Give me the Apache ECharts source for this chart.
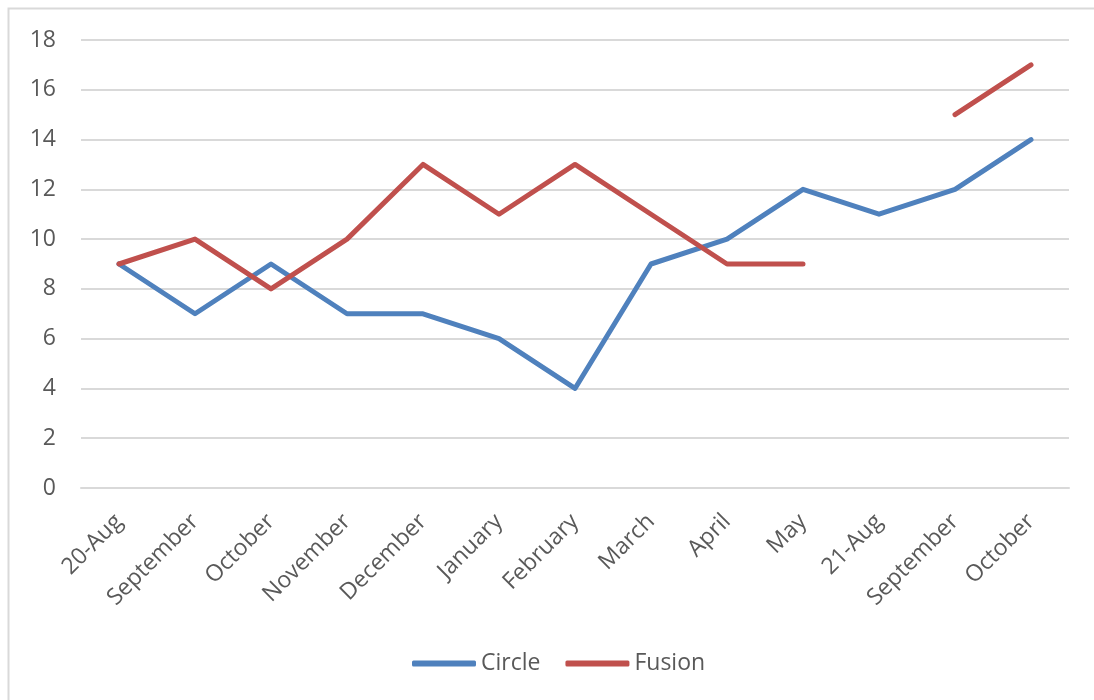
<!DOCTYPE html>
<html><head><meta charset="utf-8">
<script src="https://cdn.jsdelivr.net/npm/echarts@6/dist/echarts.min.js"></script>
<style>html,body{margin:0;padding:0;background:#fff}#c{width:1094px;height:700px}</style>
</head><body><div id="c"></div>
<script>
const categories = ['20-Aug','September','October','November','December','January','February','March','April','May','21-Aug','September','October'];
const circle = [9,7,9,7,7,6,4,9,10,12,11,12,14];
const fusion = [9,10,8,10,13,11,13,11,9,9,null,15,17];
const yTicks = {min:0,max:18,interval:2};

const chart = echarts.init(document.getElementById('c'));
const font = '"Open Sans", "Liberation Sans", sans-serif';
chart.setOption({
  animation:false,
  graphic:[{type:'rect',shape:{x:8.5,y:8.5,width:1200,height:800},style:{fill:'none',stroke:'#d9d9d9',lineWidth:2},silent:true}],
  grid:{left:81,right:25,top:40,bottom:212,containLabel:false},
  legend:{top:647,left:407,itemWidth:64,itemHeight:6,itemGap:25,
    textStyle:{color:'#595959',fontSize:23,fontFamily:font},
    data:[{name:'Circle',icon:'roundRect'},{name:'Fusion',icon:'roundRect'}]},
  xAxis:{type:'category',data:categories,boundaryGap:true,
    axisLine:{show:true,lineStyle:{color:'#d9d9d9',width:2}},axisTick:{show:false},
    axisLabel:{rotate:45,color:'#595959',fontSize:23,fontFamily:font,margin:30,interval:0}},
  yAxis:{type:'value',min:yTicks.min,max:yTicks.max,interval:yTicks.interval,
    axisLine:{show:false},axisTick:{show:false},
    splitLine:{lineStyle:{color:'#d9d9d9',width:2}},
    axisLabel:{color:'#595959',fontSize:23,fontFamily:font,margin:25}},
  series:[
    {name:'Circle',type:'line',data:circle,symbol:'none',color:'#4F81BD',
      lineStyle:{width:5,cap:'round',join:'round'}},
    {name:'Fusion',type:'line',data:fusion,symbol:'none',color:'#C0504D',connectNulls:false,
      lineStyle:{width:5,cap:'round',join:'round'}}
  ]
});
</script></body></html>
